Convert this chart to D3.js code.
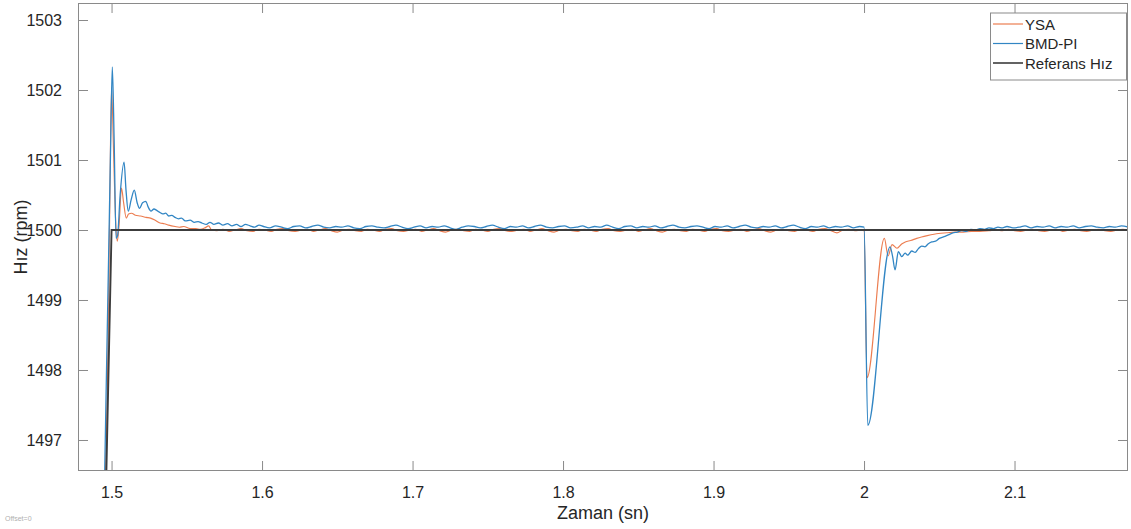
<!DOCTYPE html>
<html>
<head>
<meta charset="utf-8">
<script src="https://cdn.jsdelivr.net/npm/d3@7"></script>
<style>
  html, body { margin: 0; padding: 0; background: #fff; }
  svg { display: block; font-family: "Liberation Sans", Arial, sans-serif; }
</style>
</head>
<body>
<svg id="chart" width="1131" height="529"></svg>
<script>
// Speed response: ANN (YSA) controller vs fuzzy PI (BMD-PI) vs reference speed
const seriesNames = ["YSA", "BMD-PI", "Referans Hız"];
const seriesColors = ["#ec7d50", "#3286c4", "#3c3c3c"];

const xTicks = [1.5, 1.6, 1.7, 1.8, 1.9, 2.0, 2.1];
const yTicks = [1497, 1498, 1499, 1500, 1501, 1502, 1503];
const xLimits = [1.4777, 2.1754];
const yLimits = [1496.557, 1503.243];

// Reference speed: ramp up to 1500 rpm at t = 1.5 s, then constant
const refPoints = [
  [1.4900, 1490.00], [1.5000, 1500.00], [2.1800, 1500.00]
];

// YSA speed (t [s], rpm)
const ysaPoints = [
  [1.4940, 1495.30], [1.4973, 1497.86], [1.4987, 1500.14], [1.5000, 1502.04],
  [1.5013, 1501.14], [1.5027, 1500.14], [1.5038, 1499.84], [1.5050, 1500.07],
  [1.5066, 1500.60], [1.5080, 1500.39], [1.5098, 1500.17], [1.5113, 1500.23],
  [1.5133, 1500.24], [1.5159, 1500.21], [1.5193, 1500.20], [1.5230, 1500.18],
  [1.5259, 1500.17], [1.5290, 1500.14], [1.5322, 1500.10], [1.5350, 1500.09],
  [1.5380, 1500.07], [1.5422, 1500.05], [1.5450, 1500.04], [1.5480, 1500.05],
  [1.5522, 1500.02], [1.5560, 1500.02], [1.5590, 1500.01], [1.5620, 1500.03],
  [1.5645, 1500.06], [1.5665, 1500.00], [1.5700, 1499.99], [1.5740, 1500.01],
  [1.5780, 1499.98], [1.5820, 1500.00], [1.5860, 1500.02], [1.5900, 1499.99],
  [1.5940, 1499.98], [1.5980, 1500.01], [1.6020, 1500.00], [1.6060, 1499.98],
  [1.6100, 1500.01], [1.6140, 1500.02], [1.6180, 1499.99], [1.6220, 1499.98],
  [1.6260, 1500.00], [1.6300, 1500.01], [1.6340, 1499.98], [1.6380, 1500.00],
  [1.6420, 1500.02], [1.6460, 1499.99], [1.6500, 1499.97], [1.6540, 1500.00],
  [1.6580, 1500.01], [1.6620, 1499.99], [1.6660, 1499.98], [1.6700, 1500.01],
  [1.6740, 1500.00], [1.6780, 1499.98], [1.6820, 1500.01], [1.6860, 1500.02],
  [1.6900, 1499.99], [1.6940, 1499.98], [1.6980, 1500.00], [1.7020, 1500.01],
  [1.7060, 1499.98], [1.7100, 1500.00], [1.7140, 1500.02], [1.7180, 1499.99],
  [1.7220, 1499.97], [1.7260, 1500.00], [1.7300, 1500.01], [1.7340, 1499.99],
  [1.7380, 1499.98], [1.7420, 1500.01], [1.7460, 1500.00], [1.7500, 1499.98],
  [1.7540, 1500.01], [1.7580, 1500.02], [1.7620, 1499.99], [1.7660, 1499.98],
  [1.7700, 1500.00], [1.7740, 1500.01], [1.7780, 1499.98], [1.7820, 1500.00],
  [1.7860, 1500.02], [1.7900, 1499.99], [1.7940, 1499.97], [1.7980, 1500.00],
  [1.8020, 1500.01], [1.8060, 1499.99], [1.8100, 1499.98], [1.8140, 1500.01],
  [1.8180, 1500.00], [1.8220, 1499.98], [1.8260, 1500.01], [1.8300, 1500.02],
  [1.8340, 1499.99], [1.8380, 1499.98], [1.8420, 1500.00], [1.8460, 1500.01],
  [1.8500, 1499.98], [1.8540, 1500.00], [1.8580, 1500.02], [1.8620, 1499.99],
  [1.8660, 1499.97], [1.8700, 1500.00], [1.8740, 1500.01], [1.8780, 1499.99],
  [1.8820, 1499.98], [1.8860, 1500.01], [1.8900, 1500.00], [1.8940, 1499.98],
  [1.8980, 1500.01], [1.9020, 1500.02], [1.9060, 1499.99], [1.9100, 1499.98],
  [1.9140, 1500.00], [1.9180, 1500.01], [1.9220, 1499.98], [1.9260, 1500.00],
  [1.9300, 1500.02], [1.9340, 1499.99], [1.9380, 1499.97], [1.9420, 1500.00],
  [1.9460, 1500.01], [1.9500, 1499.99], [1.9540, 1499.98], [1.9580, 1500.01],
  [1.9620, 1500.00], [1.9660, 1499.98], [1.9700, 1500.01], [1.9740, 1500.02],
  [1.9780, 1499.99], [1.9820, 1499.96], [1.9860, 1500.00], [1.9900, 1500.01],
  [1.9940, 1499.99], [1.9980, 1500.00], [2.0000, 1499.99],
  [2.0020, 1497.89], [2.0135, 1499.88], [2.0160, 1499.63], [2.0186, 1499.79],
  [2.0219, 1499.74], [2.0250, 1499.80], [2.0274, 1499.83], [2.0310, 1499.85],
  [2.0350, 1499.88], [2.0382, 1499.90], [2.0420, 1499.92], [2.0465, 1499.94],
  [2.0495, 1499.95], [2.0550, 1499.96], [2.0605, 1499.97], [2.0660, 1499.97],
  [2.0715, 1499.98], [2.0770, 1499.98], [2.0830, 1499.99], [2.0880, 1500.00],
  [2.0920, 1499.99], [2.0960, 1500.01], [2.1000, 1499.99], [2.1040, 1499.98],
  [2.1080, 1500.00], [2.1120, 1500.01], [2.1160, 1499.99], [2.1200, 1499.98],
  [2.1240, 1500.00], [2.1280, 1500.01], [2.1320, 1499.98], [2.1360, 1500.00],
  [2.1400, 1500.01], [2.1440, 1499.99], [2.1480, 1499.98], [2.1520, 1500.00],
  [2.1560, 1500.01], [2.1600, 1499.99], [2.1640, 1499.98], [2.1680, 1500.00],
  [2.1720, 1500.01], [2.1760, 1499.99]
];

// BMD-PI speed (t [s], rpm)
const bmdPoints = [
  [1.4940, 1495.00], [1.4955, 1496.60], [1.4964, 1497.70], [1.4982, 1499.80],
  [1.4993, 1501.10], [1.5005, 1502.33], [1.5017, 1501.30], [1.5030, 1499.88],
  [1.5040, 1499.92], [1.5057, 1500.50], [1.5083, 1500.97], [1.5096, 1500.57],
  [1.5111, 1500.27], [1.5130, 1500.43], [1.5151, 1500.57], [1.5170, 1500.39],
  [1.5186, 1500.31], [1.5206, 1500.39], [1.5228, 1500.41], [1.5243, 1500.33],
  [1.5262, 1500.27], [1.5282, 1500.30], [1.5300, 1500.28], [1.5322, 1500.25],
  [1.5340, 1500.23], [1.5360, 1500.24], [1.5380, 1500.20], [1.5400, 1500.21],
  [1.5422, 1500.18], [1.5445, 1500.16], [1.5465, 1500.17], [1.5490, 1500.13],
  [1.5522, 1500.14], [1.5550, 1500.11], [1.5575, 1500.12], [1.5600, 1500.10],
  [1.5630, 1500.08], [1.5654, 1500.11], [1.5680, 1500.08], [1.5710, 1500.10],
  [1.5740, 1500.07], [1.5770, 1500.09], [1.5800, 1500.06], [1.5830, 1500.08],
  [1.5860, 1500.05], [1.5890, 1500.08], [1.5920, 1500.06], [1.5950, 1500.04],
  [1.5980, 1500.07], [1.6010, 1500.05], [1.6050, 1500.03], [1.6090, 1500.06],
  [1.6130, 1500.04], [1.6170, 1500.02], [1.6210, 1500.05], [1.6250, 1500.06],
  [1.6290, 1500.03], [1.6330, 1500.05], [1.6370, 1500.07], [1.6410, 1500.04],
  [1.6450, 1500.03], [1.6490, 1500.05], [1.6530, 1500.04], [1.6570, 1500.06],
  [1.6610, 1500.03], [1.6650, 1500.02], [1.6690, 1500.05], [1.6730, 1500.06],
  [1.6770, 1500.04], [1.6810, 1500.03], [1.6850, 1500.05], [1.6890, 1500.07],
  [1.6930, 1500.04], [1.6970, 1500.02], [1.7010, 1500.04], [1.7050, 1500.06],
  [1.7090, 1500.03], [1.7130, 1500.05], [1.7170, 1500.04], [1.7210, 1500.06],
  [1.7250, 1500.03], [1.7290, 1500.01], [1.7330, 1500.04], [1.7370, 1500.06],
  [1.7410, 1500.05], [1.7450, 1500.03], [1.7490, 1500.05], [1.7530, 1500.07],
  [1.7570, 1500.04], [1.7610, 1500.02], [1.7650, 1500.05], [1.7690, 1500.04],
  [1.7730, 1500.06], [1.7770, 1500.03], [1.7810, 1500.05], [1.7850, 1500.07],
  [1.7890, 1500.04], [1.7930, 1500.03], [1.7970, 1500.05], [1.8010, 1500.06],
  [1.8050, 1500.03], [1.8090, 1500.04], [1.8130, 1500.06], [1.8170, 1500.03],
  [1.8210, 1500.05], [1.8250, 1500.04], [1.8290, 1500.07], [1.8330, 1500.04],
  [1.8370, 1500.02], [1.8410, 1500.05], [1.8450, 1500.06], [1.8490, 1500.03],
  [1.8530, 1500.05], [1.8570, 1500.04], [1.8610, 1500.06], [1.8650, 1500.03],
  [1.8690, 1500.05], [1.8730, 1500.07], [1.8770, 1500.04], [1.8810, 1500.03],
  [1.8850, 1500.05], [1.8890, 1500.06], [1.8930, 1500.04], [1.8970, 1500.02],
  [1.9010, 1500.05], [1.9050, 1500.04], [1.9090, 1500.06], [1.9130, 1500.03],
  [1.9170, 1500.05], [1.9210, 1500.07], [1.9250, 1500.04], [1.9290, 1500.03],
  [1.9330, 1500.05], [1.9370, 1500.04], [1.9410, 1500.06], [1.9450, 1500.03],
  [1.9490, 1500.05], [1.9530, 1500.07], [1.9570, 1500.04], [1.9610, 1500.02],
  [1.9650, 1500.05], [1.9690, 1500.04], [1.9730, 1500.06], [1.9770, 1500.03],
  [1.9810, 1500.05], [1.9850, 1500.04], [1.9890, 1500.06], [1.9930, 1500.03],
  [1.9970, 1500.05], [2.0000, 1500.04],
  [2.0025, 1497.21], [2.0173, 1499.76], [2.0190, 1499.62], [2.0206, 1499.43],
  [2.0228, 1499.69], [2.0251, 1499.62], [2.0273, 1499.67], [2.0290, 1499.64],
  [2.0317, 1499.70], [2.0340, 1499.68], [2.0360, 1499.73], [2.0383, 1499.77],
  [2.0405, 1499.76], [2.0425, 1499.80], [2.0450, 1499.83], [2.0475, 1499.84],
  [2.0500, 1499.88], [2.0538, 1499.91], [2.0560, 1499.93], [2.0590, 1499.96],
  [2.0620, 1499.97], [2.0650, 1499.99], [2.0680, 1499.98], [2.0710, 1500.01],
  [2.0740, 1500.00], [2.0770, 1500.02], [2.0800, 1500.01], [2.0830, 1500.03],
  [2.0860, 1500.02], [2.0890, 1500.04], [2.0920, 1500.03], [2.0950, 1500.05],
  [2.0990, 1500.03], [2.1030, 1500.04], [2.1070, 1500.06], [2.1110, 1500.03],
  [2.1150, 1500.05], [2.1190, 1500.04], [2.1230, 1500.06], [2.1270, 1500.03],
  [2.1310, 1500.05], [2.1350, 1500.04], [2.1390, 1500.06], [2.1430, 1500.03],
  [2.1470, 1500.05], [2.1510, 1500.06], [2.1550, 1500.04], [2.1590, 1500.03],
  [2.1630, 1500.05], [2.1670, 1500.04], [2.1710, 1500.06], [2.1760, 1500.04]
];

const svg = d3.select("#chart");
const W = 1131, H = 529;
const plot = { left: 78, right: 1128, top: 3, bottom: 471 };

svg.append("rect").attr("width", W).attr("height", H).attr("fill", "#fff");

const x = d3.scaleLinear().domain(xLimits).range([plot.left, plot.right]);
const y = d3.scaleLinear().domain(yLimits).range([plot.bottom, plot.top]);

const fmt = v => d3.format("~g")(+v.toFixed(4));
const frameColor = "#8a8a8a";
const textColor = "#262626";
const tickLen = 10;

svg.append("defs").append("clipPath").attr("id", "plotClip")
  .append("rect")
  .attr("x", plot.left).attr("y", plot.top)
  .attr("width", plot.right - plot.left).attr("height", plot.bottom - plot.top);

// Axes with inward ticks, mirrored on the opposite sides
const gxB = svg.append("g").attr("transform", `translate(0,${plot.bottom})`)
  .call(d3.axisBottom(x).tickValues(xTicks).tickSize(-tickLen).tickPadding(16).tickFormat(fmt));
const gxT = svg.append("g").attr("transform", `translate(0,${plot.top})`)
  .call(d3.axisTop(x).tickValues(xTicks).tickSize(-tickLen).tickFormat(""));
const gyL = svg.append("g").attr("transform", `translate(${plot.left},0)`)
  .call(d3.axisLeft(y).tickValues(yTicks).tickSize(-tickLen).tickPadding(16).tickFormat(fmt));
const gyR = svg.append("g").attr("transform", `translate(${plot.right},0)`)
  .call(d3.axisRight(y).tickValues(yTicks).tickSize(-tickLen).tickFormat(""));

[gxB, gxT, gyL, gyR].forEach(g => {
  g.select(".domain").remove();
  g.selectAll(".tick line").attr("stroke", frameColor).attr("stroke-width", 1);
  g.selectAll(".tick text")
    .attr("fill", textColor)
    .style("font-size", "16px")
    .style("font-family", "'Liberation Sans', Arial, sans-serif");
});

// Series lines (smooth curves through the sampled speeds)
const smooth = d3.line().curve(d3.curveMonotoneX).x(d => x(d[0])).y(d => y(d[1]));
const straight = d3.line().x(d => x(d[0])).y(d => y(d[1]));
const lines = svg.append("g").attr("clip-path", "url(#plotClip)");
lines.append("path").datum(ysaPoints)
  .attr("fill", "none").attr("stroke", seriesColors[0]).attr("stroke-width", 1.15)
  .attr("stroke-linejoin", "round").attr("d", smooth);
lines.append("path").datum(bmdPoints)
  .attr("fill", "none").attr("stroke", seriesColors[1]).attr("stroke-width", 1.3)
  .attr("stroke-linejoin", "round").attr("d", smooth);
lines.append("path").datum(refPoints)
  .attr("fill", "none").attr("stroke", seriesColors[2]).attr("stroke-width", 1.9)
  .attr("d", straight);

// Box frame
svg.append("rect")
  .attr("x", plot.left + 0.5).attr("y", plot.top + 0.5)
  .attr("width", plot.right - plot.left - 1).attr("height", plot.bottom - plot.top - 1)
  .attr("fill", "none").attr("stroke", frameColor).attr("stroke-width", 1);

// Axis titles
svg.append("text")
  .attr("x", (plot.left + plot.right) / 2).attr("y", 519)
  .attr("text-anchor", "middle").attr("fill", textColor)
  .style("font-size", "18px").text("Zaman (sn)");
svg.append("text")
  .attr("transform", `translate(27,${(plot.top + plot.bottom) / 2}) rotate(-90)`)
  .attr("text-anchor", "middle").attr("fill", textColor)
  .style("font-size", "18px").text("Hız (rpm)");

svg.append("text")
  .attr("x", 5).attr("y", 521).attr("fill", "#b0b0b0")
  .style("font-size", "7px").text("Offset=0");

// Legend
const legend = { x: 990, y: 12.5, w: 137, h: 67 };
const lg = svg.append("g");
lg.append("rect")
  .attr("x", legend.x + 0.5).attr("y", legend.y + 0.5)
  .attr("width", legend.w - 1).attr("height", legend.h)
  .attr("fill", "#fff").attr("stroke", frameColor).attr("stroke-width", 1);
const rowY = [24, 43.5, 63];
seriesNames.forEach((name, i) => {
  lg.append("line")
    .attr("x1", legend.x + 3).attr("x2", legend.x + 33)
    .attr("y1", rowY[i]).attr("y2", rowY[i])
    .attr("stroke", seriesColors[i]).attr("stroke-width", i === 2 ? 1.6 : 1.2);
  lg.append("text")
    .attr("x", legend.x + 35).attr("y", rowY[i] + 5.5)
    .attr("fill", textColor).style("font-size", "15px").text(name);
});
</script>
</body>
</html>
